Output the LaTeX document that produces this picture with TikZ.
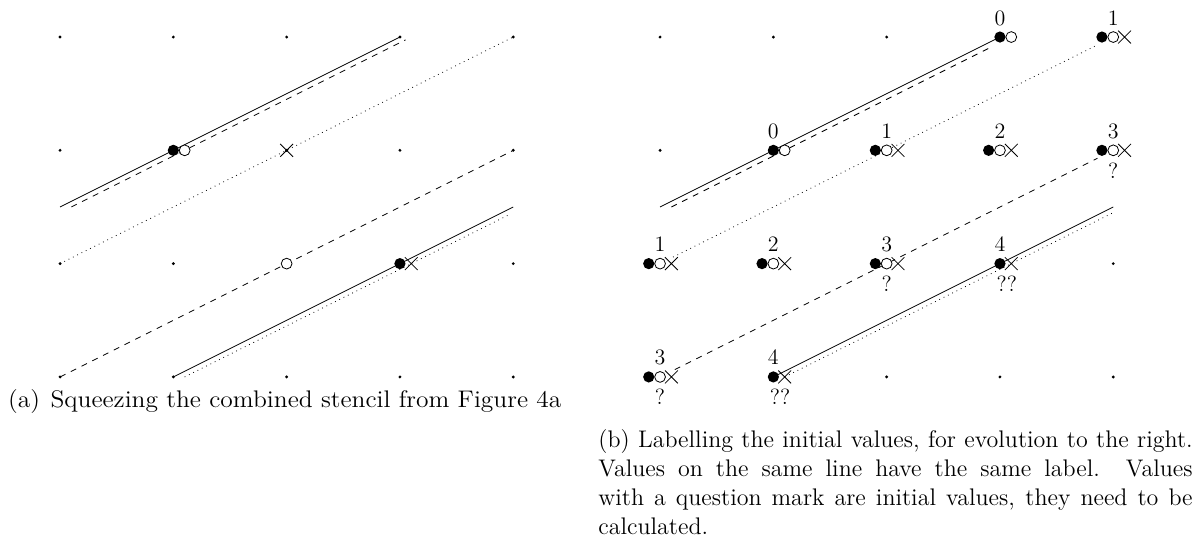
\documentclass[tikz,border=0pt]{standalone}
\usepackage{graphicx}
\usepackage{tikz}
\usetikzlibrary{shapes.misc,backgrounds}

\begin{document}
\begin{tikzpicture}[x=1.99cm, y=1.99cm,
    gdot/.style={circle, fill, inner sep=0pt, minimum size=1.6pt},
    full/.style={circle, fill, inner sep=0pt, minimum size=5.6pt},
    hollow/.style={circle, draw, fill=white, inner sep=0pt, minimum size=5.4pt},
    crossmark/.style={cross out, draw, inner sep=0pt, minimum size=6pt},
    lbl/.style={anchor=base, inner sep=0pt, font=\fontsize{11}{13}\selectfont},
    caption/.style={anchor=base west, inner sep=0pt, font=\fontsize{12}{14.5}\selectfont}
]
\useasboundingbox (-0.53,-1.465) rectangle (10.053,3.327);

% (a) squeezed stencil
\foreach \i in {0,...,4}
  \foreach \j in {0,...,3}
    \node[gdot] (a\i\j) at (\i,\j) {};

\node[full] (af12) at (1,2) {};
\node[hollow] (ao12) at (1.1,2) {};
\node[crossmark] (ax22) at (2,2) {};
\node[hollow] (ao21) at (2,1) {};
\node[full] (af31) at (3,1) {};
\node[crossmark] (ax31) at (3.1,1) {};

\begin{scope}[on background layer]
\coordinate (as0) at (0,1.5);
\coordinate (ad0) at (0.1,1.5);
\coordinate (ad1) at (3.05,2.975);
\coordinate (as1) at (4,1.5);
\coordinate (at0) at (1.1,0);
\coordinate (at1) at (3.98,1.44);
\draw (as0) -- (af12.center) -- (a33.center);
\draw[dashed] (ad0) -- (ao12.center) -- (ad1);
\draw[dotted] (a01.center) -- (ax22.center) -- (a43.center);
\draw[dashed] (a00.center) -- (ao21.center) -- (a42.center);
\draw (a10.center) -- (af31.center) -- (as1);
\draw[dotted] (at0) -- (ax31.center) -- (at1);
\end{scope}

\node[caption] (capa) at (-0.462,-0.274)
  {\resizebox{276.5pt}{\height}{(a)\hspace{5pt}Squeezing the combined stencil from Figure 4a}};

% (b) labels of the initial values
\begin{scope}[shift={(5.296,0)}]
\foreach \i in {0,...,4}
  \foreach \j in {0,...,3}
    \node[gdot] (b\i\j) at (\i,\j) {};

% full + open + cross
\foreach \i/\j in {4/3, 2/2, 3/2, 4/2, 0/1, 1/1, 2/1, 0/0} {
  \node[full] (bf\i\j) at (\i-0.1,\j) {};
  \node[hollow] (bo\i\j) at (\i,\j) {};
  \node[crossmark] (bx\i\j) at (\i+0.1,\j) {};
}
% full + open
\node[full] (bf33) at (3,3) {};
\node[hollow] (bo33) at (3.1,3) {};
\node[full] (bf12) at (1,2) {};
\node[hollow] (bo12) at (1.1,2) {};
% full + cross
\node[full] (bf31) at (3,1) {};
\node[crossmark] (bx31) at (3.1,1) {};
\node[full] (bf10) at (1,0) {};
\node[crossmark] (bx10) at (1.1,0) {};

\begin{scope}[on background layer]
\coordinate (bs0) at (0,1.5);
\coordinate (bd0) at (0.1,1.5);
\coordinate (bd1) at (2.94,2.92);
\coordinate (bt0) at (0.115,1.0575);
\coordinate (bt1) at (3.86,2.93);
\coordinate (be0) at (0.13,0.065);
\coordinate (be1) at (3.86,1.93);
\coordinate (bs1) at (4,1.5);
\coordinate (bu1) at (3.99,1.445);
\draw (bs0) -- (bf12.center) -- (bf33.center);
\draw[dashed] (bd0) -- (bo12.center) -- (bd1);
\draw[dotted] (bt0) -- (bo22.center) -- (bt1);
\draw[dashed] (be0) -- (bo21.center) -- (be1);
\draw (bf10.center) -- (bf31.center) -- (bs1);
\draw[dotted] (bx10.center) -- (bx31.center) -- (bu1);
\end{scope}

\node[lbl] (n33) at ([yshift=6pt]b33.center) {0};
\node[lbl] (n43) at ([yshift=6pt]b43.center) {1};
\node[lbl] (n12) at ([yshift=6pt]b12.center) {0};
\node[lbl] (n22) at ([yshift=6pt]b22.center) {1};
\node[lbl] (n32) at ([yshift=6pt]b32.center) {2};
\node[lbl] (n42) at ([yshift=6pt]b42.center) {3};
\node[lbl] (n01) at ([yshift=6pt]b01.center) {1};
\node[lbl] (n11) at ([yshift=6pt]b11.center) {2};
\node[lbl] (n21) at ([yshift=6pt]b21.center) {3};
\node[lbl] (n31) at ([yshift=6pt]b31.center) {4};
\node[lbl] (n00) at ([yshift=6pt]b00.center) {3};
\node[lbl] (n10) at ([yshift=6pt]b10.center) {4};

\node[lbl] (q42) at ([yshift=-14pt]b42.center) {?};
\node[lbl] (q21) at ([yshift=-14pt]b21.center) {?};
\node[lbl] (q00) at ([yshift=-14pt]b00.center) {?};
\node[lbl] (q31) at ([xshift=3.4pt,yshift=-14pt]b31.center) {??};
\node[lbl] (q10) at ([xshift=3.4pt,yshift=-14pt]b10.center) {??};
\end{scope}

\node[caption] (capb) at (4.748,-0.623)
  {\parbox[t]{297pt}{(b) Labelling the initial values, for evolution to the right.\linebreak
   Values on the same line have the same label.  Values\linebreak
   with a question mark are initial values, they need to be\linebreak
   calculated.}};
\end{tikzpicture}
\end{document}
